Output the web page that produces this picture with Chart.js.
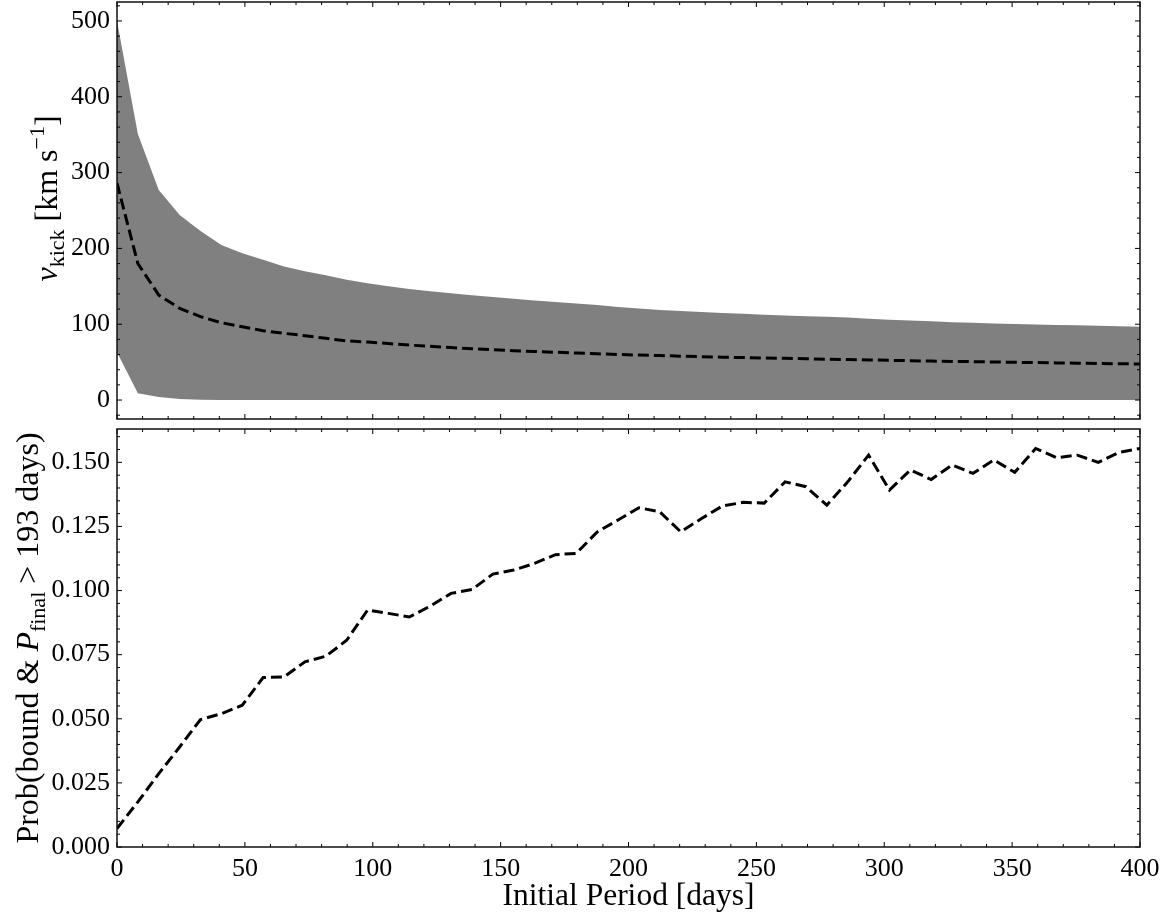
<!DOCTYPE html>
<html>
<head>
<meta charset="utf-8">
<script src="https://cdn.jsdelivr.net/npm/chart.js@4.4.1/dist/chart.umd.min.js"></script>
<style>
  body { margin: 0; background: #fff; }
  .panel { position: absolute; left: 0; }
</style>
</head>
<body>
<canvas id="kick" class="panel" style="top:0" width="1169" height="424"></canvas>
<canvas id="prob" class="panel" style="top:424px" width="1169" height="494"></canvas>
<script>
// initial orbital periods [days]
const periods = [0, 8.16, 16.33, 24.49, 32.65, 40.82, 48.98, 57.14, 65.31, 73.47,
  81.63, 89.80, 97.96, 106.12, 114.29, 122.45, 130.61, 138.78, 146.94, 155.10,
  163.27, 171.43, 179.59, 187.76, 195.92, 204.08, 212.24, 220.41, 228.57, 236.73,
  244.90, 253.06, 261.22, 269.39, 277.55, 285.71, 293.88, 302.04, 310.20, 318.37,
  326.53, 334.69, 342.86, 351.02, 359.18, 367.35, 375.51, 383.67, 391.84, 400];

// kick velocity band [km/s]
const kickLower = [63, 9, 4, 1.5, 0.3, 0, 0, 0, 0, 0,
  0, 0, 0, 0, 0, 0, 0, 0, 0, 0,
  0, 0, 0, 0, 0, 0, 0, 0, 0, 0,
  0, 0, 0, 0, 0, 0, 0, 0, 0, 0,
  0, 0, 0, 0, 0, 0, 0, 0, 0, 0];
const kickUpper = [500, 351, 277, 244, 223, 204.5, 193.5, 185, 176, 170,
  164.5, 158.5, 154, 150, 146.5, 143.5, 140.7, 138.2, 135.8, 133.5,
  131.3, 129.2, 127.2, 125.4, 122.8, 120.8, 118.8, 117.3, 116, 114.8,
  113.7, 112.6, 111.6, 110.6, 109.7, 108.8, 107.2, 106, 104.9, 103.8,
  102.7, 101.8, 101.1, 100.4, 99.8, 99.1, 98.5, 97.9, 97.3, 96.7];
const kickMedian = [286, 180, 138.5, 121, 110, 102, 96.7, 91.5, 88, 84.9,
  81.4, 78, 76.5, 74.5, 72.5, 70.8, 69.2, 67.7, 66.3, 65.1,
  64, 63, 62, 61, 60.1, 59.3, 58.6, 57.9, 57.2, 56.6,
  56, 55.5, 55, 54.4, 53.9, 53.4, 52.9, 52.4, 51.9, 51.4,
  51, 50.6, 50.2, 49.8, 49.4, 49, 48.6, 48.2, 47.9, 47.5];

// Prob(bound & P_final > 193 days)
const probBound = [0.0072, 0.0176, 0.0286, 0.039, 0.0497, 0.052, 0.0553, 0.0661, 0.0663, 0.0722,
  0.0744, 0.0806, 0.0924, 0.0911, 0.0897, 0.0939, 0.0989, 0.1004, 0.1064, 0.108,
  0.1106, 0.114, 0.1145, 0.1229, 0.1275, 0.1323, 0.1307, 0.1229, 0.1281, 0.133,
  0.1344, 0.1341, 0.1424, 0.1405, 0.1333, 0.1424, 0.1528, 0.1392, 0.147, 0.1433,
  0.149, 0.1457, 0.1509, 0.1461, 0.1554, 0.1518, 0.1528, 0.15, 0.1539, 0.1554];

const xTicks = [0, 50, 100, 150, 200, 250, 300, 350, 400];
const kickTicks = [0, 100, 200, 300, 400, 500];
const probTicks = [0, 0.025, 0.05, 0.075, 0.1, 0.125, 0.15];

const FONT = '"Liberation Serif", "Times New Roman", serif';
const pts = ys => ys.map((y, i) => ({ x: periods[i], y: y }));

// matplotlib style frame with inward ticks on all four sides
function frameTicks(xMinor, xMajor, yMinor, yMajor) {
  return {
    id: 'frameTicks',
    afterDraw(chart) {
      const { ctx, chartArea: a, scales: { x, y } } = chart;
      const isMajor = (v, m) => Math.abs(v / m - Math.round(v / m)) < 1e-6;
      ctx.save();
      ctx.strokeStyle = '#000';
      ctx.lineWidth = 1;
      const line = (x0, y0, x1, y1) => { ctx.beginPath(); ctx.moveTo(x0, y0); ctx.lineTo(x1, y1); ctx.stroke(); };
      for (let k = Math.ceil(x.min / xMinor); k * xMinor <= x.max + 1e-9; k++) {
        const v = k * xMinor, px = x.getPixelForValue(v), len = isMajor(v, xMajor) ? 5 : 3;
        line(px, a.bottom, px, a.bottom - len);
        line(px, a.top, px, a.top + len);
      }
      for (let k = Math.ceil(y.min / yMinor - 1e-9); k * yMinor <= y.max + 1e-9; k++) {
        const v = k * yMinor, py = y.getPixelForValue(v), len = isMajor(v, yMajor) ? 5 : 3;
        line(a.left, py, a.left + len, py);
        line(a.right, py, a.right - len, py);
      }
      ctx.lineWidth = 1.5;
      ctx.strokeStyle = '#111';
      ctx.strokeRect(a.left, a.top, a.right - a.left, a.bottom - a.top);
      ctx.restore();
    }
  };
}

// rotated axis title with sub/superscripts
function yTitle(parts, baseX, size, shiftY) {
  return {
    id: 'yTitle',
    afterDraw(chart) {
      const { ctx, chartArea: a } = chart;
      const fontOf = p => (p.it ? 'italic ' : '') + (p.sub || p.sup ? Math.round(size * 0.7) : size) + 'px ' + FONT;
      ctx.save();
      ctx.translate(baseX, (a.top + a.bottom) / 2 + shiftY);
      ctx.rotate(-Math.PI / 2);
      ctx.fillStyle = '#000';
      ctx.textBaseline = 'alphabetic';
      const widths = parts.map(p => { ctx.font = fontOf(p); return ctx.measureText(p.t).width; });
      let px = -widths.reduce((s, w) => s + w, 0) / 2;
      parts.forEach((p, i) => {
        ctx.font = fontOf(p);
        const dy = p.sub ? size * 0.22 : p.sup ? -size * 0.4 : 0;
        ctx.fillText(p.t, px, dy);
        px += widths[i];
      });
      ctx.restore();
    }
  };
}

const yAxisBase = (ticks, fmt) => ({
  grid: { display: false, drawTicks: false },
  border: { display: false },
  afterBuildTicks: s => { s.ticks = ticks.map(v => ({ value: v })); },
  afterFit: s => { s.width = 117; s.paddingTop = 0; s.paddingBottom = 0; },
  ticks: { padding: 7, color: '#000', font: { family: FONT, size: 26 }, callback: fmt }
});

new Chart(document.getElementById('kick'), {
  type: 'line',
  data: {
    datasets: [
      { data: pts(kickLower), borderWidth: 0, pointRadius: 0, fill: false, order: 2 },
      { data: pts(kickUpper), borderWidth: 0, pointRadius: 0, fill: '-1', backgroundColor: '#808080', order: 2 },
      { data: pts(kickMedian), borderColor: '#000', borderWidth: 3, borderDash: [11, 5], pointRadius: 0, fill: false, order: 1 }
    ]
  },
  options: {
    responsive: false,
    animation: false,
    layout: { padding: { top: 2, bottom: 5, left: 0, right: 29 } },
    elements: { line: { tension: 0 } },
    plugins: { legend: { display: false }, tooltip: { enabled: false } },
    scales: {
      x: { type: 'linear', min: 0, max: 400, display: false },
      y: Object.assign({ min: -25, max: 525 }, yAxisBase(kickTicks, v => String(v)))
    }
  },
  plugins: [frameTicks(10, 50, 20, 100), yTitle([
    { t: 'v', it: true }, { t: 'kick', sub: true }, { t: ' [km s' }, { t: '\u22121', sup: true }, { t: ']' }
  ], 57, 32, -12)]
});

new Chart(document.getElementById('prob'), {
  type: 'line',
  data: {
    datasets: [
      { data: pts(probBound), borderColor: '#000', borderWidth: 3, borderDash: [11, 5], pointRadius: 0, fill: false }
    ]
  },
  options: {
    responsive: false,
    animation: false,
    layout: { padding: { top: 5, bottom: 0, left: 0, right: 29 } },
    elements: { line: { tension: 0 } },
    plugins: { legend: { display: false }, tooltip: { enabled: false } },
    scales: {
      x: {
        type: 'linear', min: 0, max: 400,
        grid: { display: false, drawTicks: false },
        border: { display: false },
        afterBuildTicks: s => { s.ticks = xTicks.map(v => ({ value: v })); },
        afterFit: s => { s.height = 71; s.paddingLeft = 0; s.paddingRight = 0; },
        ticks: { padding: 7, maxRotation: 0, color: '#000', font: { family: FONT, size: 26 } },
        title: { display: true, text: 'Initial Period [days]', color: '#000', font: { family: FONT, size: 31.5 }, padding: { top: 0, bottom: 2 } }
      },
      y: Object.assign({ min: 0, max: 0.163 }, yAxisBase(probTicks, v => v.toFixed(3)))
    }
  },
  plugins: [frameTicks(10, 50, 0.005, 0.025), yTitle([
    { t: 'Prob(bound & ' }, { t: 'P', it: true }, { t: 'final', sub: true }, { t: ' > 193 days)' }
  ], 38, 32, 0)]
});
</script>
</body>
</html>
